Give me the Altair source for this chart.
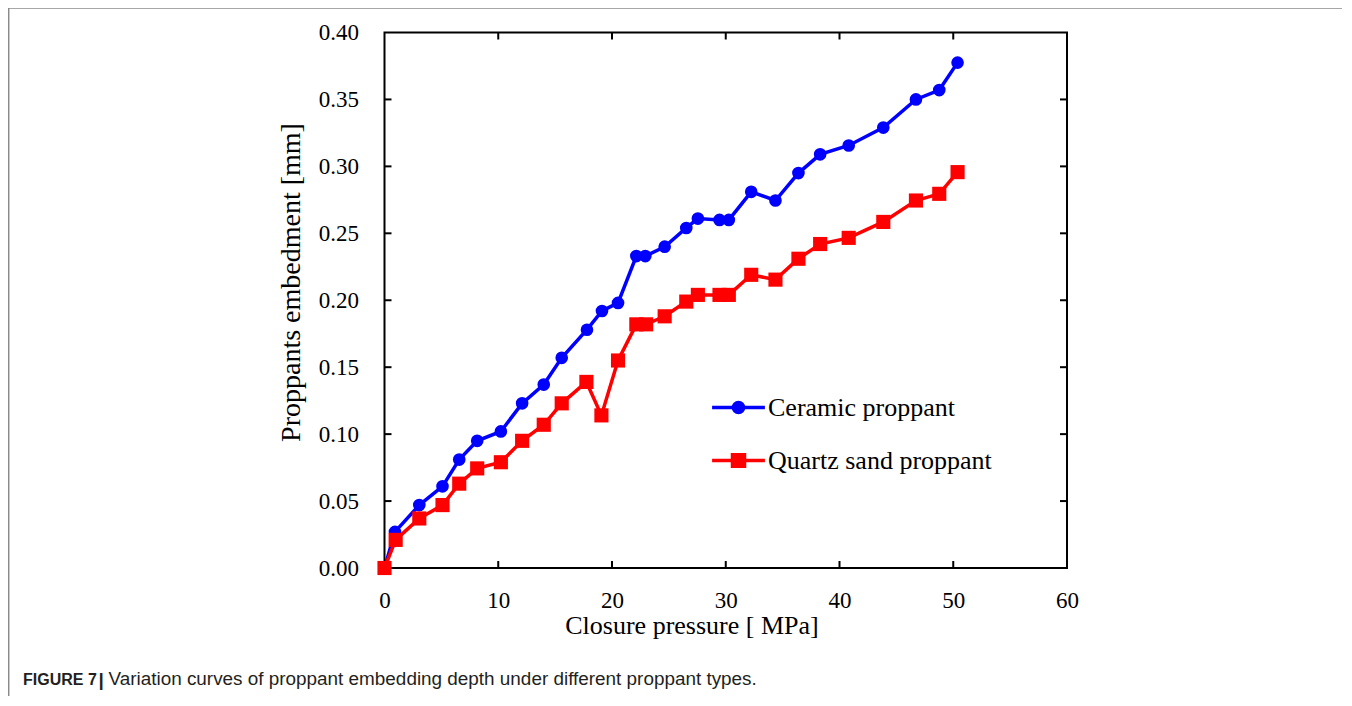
import altair as alt
import pandas as pd

# ---- data ----
series_names = ["Ceramic proppant", "Quartz sand proppant"]
series_colors = ["#0000FF", "#FF0000"]

pressure_ceramic = [0, 0.92, 3.06, 5.1, 6.57, 8.15, 10.23, 12.1, 14.0, 15.58, 17.8, 19.12,
                    20.53, 22.14, 22.93, 24.63, 26.53, 27.55, 29.45, 30.27, 32.24, 34.37,
                    36.39, 38.3, 40.81, 43.85, 46.72, 48.77, 50.38]
embed_ceramic = [0, 0.027, 0.047, 0.061, 0.081, 0.095, 0.102, 0.123, 0.137, 0.157, 0.178, 0.192,
                 0.198, 0.233, 0.233, 0.240, 0.254, 0.261, 0.260, 0.260, 0.281, 0.2745,
                 0.295, 0.309, 0.3156, 0.329, 0.350, 0.357, 0.3775]

pressure_quartz = [0, 0.98, 3.06, 5.1, 6.57, 8.15, 10.23, 12.1, 14.0, 15.58, 17.75, 19.07,
                   20.53, 22.14, 23.0, 24.63, 26.53, 27.55, 29.45, 30.27, 32.24, 34.37,
                   36.39, 38.3, 40.81, 43.85, 46.72, 48.77, 50.38]
embed_quartz = [0, 0.021, 0.037, 0.047, 0.063, 0.0744, 0.079, 0.095, 0.107, 0.123, 0.139, 0.114,
                0.155, 0.182, 0.182, 0.188, 0.199, 0.204, 0.204, 0.204, 0.219, 0.2154,
                0.231, 0.242, 0.2466, 0.2585, 0.2745, 0.2795, 0.2957]

x_tick_labels = [0, 10, 20, 30, 40, 50, 60]
y_tick_labels = [0.0, 0.05, 0.10, 0.15, 0.20, 0.25, 0.30, 0.35, 0.40]
x_inner_ticks = [10, 20, 30, 40, 50]
y_inner_ticks = [0.05, 0.10, 0.15, 0.20, 0.25, 0.30, 0.35]

x_title = "Closure pressure [ MPa]"
y_title = "Proppants embedment [mm]"
caption_bold = "FIGURE 7"
caption_bar = "|"
caption_text = "Variation curves of proppant embedding depth under different proppant types."

# ---- build tables ----
df = pd.concat([
    pd.DataFrame({"p": pressure_ceramic, "e": embed_ceramic, "series": series_names[0]}),
    pd.DataFrame({"p": pressure_quartz, "e": embed_quartz, "series": series_names[1]}),
], ignore_index=True)

W, H = 682.5, 535.5
SERIF = "Liberation Serif"
SANS = "Liberation Sans"

xs = alt.Scale(domain=[0, 60], nice=False, zero=False)
ys = alt.Scale(domain=[0, 0.4], nice=False, zero=False)

x_axis = alt.Axis(values=x_tick_labels, format="d", labelFont=SERIF, labelFontSize=23,
                  labelColor="black", labelBaseline="alphabetic", labelPadding=39,
                  labelFlush=False, labelOverlap=False,
                  ticks=False, domain=False, grid=False, title=x_title, titleFont=SERIF,
                  titleFontSize=26, titleFontWeight="normal", titleColor="black",
                  titleX=307, titleY=65, titleBaseline="alphabetic", titleAlign="center")
y_axis = alt.Axis(values=y_tick_labels, format=".2f", labelFont=SERIF, labelFontSize=23,
                  labelColor="black", labelPadding=26, labelFlush=False, labelOverlap=False,
                  ticks=False, domain=False, grid=False,
                  title=y_title, titleFont=SERIF, titleFontSize=28, titleFontWeight="normal",
                  titleColor="black", titleAngle=270, titleX=-85.5, titleY=249.5,
                  titleBaseline="alphabetic", titleAlign="center")

X = lambda f: alt.X(f, scale=xs, axis=x_axis)
Y = lambda f: alt.Y(f, scale=ys, axis=y_axis)

base = alt.Chart(df)

def series_layers(i, shape, size):
    sub = base.transform_filter(alt.datum.series == series_names[i])
    line = sub.mark_line(strokeWidth=3.5, color=series_colors[i]).encode(x=X("p:Q"), y=Y("e:Q"))
    pts = sub.mark_point(filled=True, shape=shape, size=size, opacity=1,
                         color=series_colors[i]).encode(x=X("p:Q"), y=Y("e:Q"))
    return [line, pts]

# legend (line + marker symbols)
circ_path = "M-4.4,0H4.4M0.85,0A0.85,0.85,0,1,1,-0.85,0A0.85,0.85,0,1,1,0.85,0Z"
sq_path = "M-4.4,0H4.4M-1,-0.95H1V0.95H-1Z"
leg = alt.Legend(title=None, orient="none", legendX=341, legendY=362, padding=0,
                 labelFont=SERIF, labelFontSize=26, labelColor="black", labelLimit=0,
                 labelOffset=16.5, rowPadding=27, symbolSize=144, symbolStrokeWidth=3.5)
legend_layer = base.transform_filter("false").mark_point(filled=True, size=144, opacity=1).encode(
    x=X("p:Q"), y=Y("e:Q"),
    color=alt.Color("series:N", scale=alt.Scale(domain=series_names, range=series_colors), legend=leg),
    stroke=alt.Stroke("series:N", scale=alt.Scale(domain=series_names, range=series_colors), legend=leg),
    shape=alt.Shape("series:N", scale=alt.Scale(domain=series_names, range=[circ_path, sq_path]), legend=leg),
)

# inward ticks on all four sides
tx = alt.Chart(pd.DataFrame({"p": x_inner_ticks}))
ty = alt.Chart(pd.DataFrame({"e": y_inner_ticks}))
tick_style = dict(color="black", strokeWidth=2)
ticks = [
    tx.mark_rule(**tick_style).encode(x=X("p:Q"), y=alt.value(H), y2=alt.value(H - 7)),
    tx.mark_rule(**tick_style).encode(x=X("p:Q"), y=alt.value(0), y2=alt.value(7)),
    ty.mark_rule(**tick_style).encode(y=Y("e:Q"), x=alt.value(0), x2=alt.value(7)),
    ty.mark_rule(**tick_style).encode(y=Y("e:Q"), x=alt.value(W), x2=alt.value(W - 7)),
]

# figure frame and caption
one = alt.Chart(pd.DataFrame({"k": [0]}))
frame_style = dict(color="#8a8a8a", strokeWidth=1.5)
frame = [
    one.mark_rule(**frame_style).encode(x=alt.value(-375.8), y=alt.value(-24.5), y2=alt.value(680)),
    one.mark_rule(**frame_style).encode(x=alt.value(958.8), y=alt.value(-24.5), y2=alt.value(680)),
    one.mark_rule(**frame_style).encode(x=alt.value(-375.8), x2=alt.value(958.8), y=alt.value(-24.5)),
]
cap_y = 652
cap1 = one.mark_text(text=caption_bold, font=SANS, fontSize=16, fontWeight="bold", align="left",
                     baseline="alphabetic", color="#231f20").encode(x=alt.value(-361.5), y=alt.value(cap_y))
cap_bar = one.mark_text(text=caption_bar, font=SANS, fontSize=19, fontWeight="bold", align="left",
                        baseline="alphabetic", color="#231f20").encode(x=alt.value(-286), y=alt.value(cap_y + 1))
cap2 = one.mark_text(text=caption_text, font=SANS, fontSize=18.9, align="left",
                     baseline="alphabetic", color="#231f20").encode(x=alt.value(-276), y=alt.value(cap_y))

layers = ticks + series_layers(0, "circle", 160) + series_layers(1, "square", 200) \
    + [legend_layer] + frame + [cap1, cap_bar, cap2]

chart = alt.layer(*layers).properties(
    width=W, height=H,
    autosize=alt.AutoSizeParams(type="none"),
    padding={"left": 376.5, "top": 24.5, "right": 275, "bottom": 128},
    background="white",
).configure_view(stroke="black", strokeWidth=2)

chart.save("out.html", embed_options={"renderer": "svg", "actions": False})
